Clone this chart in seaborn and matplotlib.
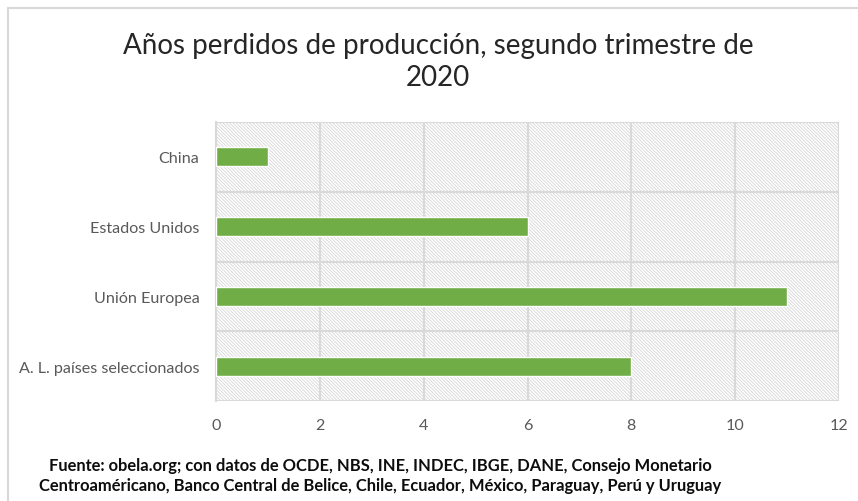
import matplotlib
matplotlib.use("Agg")
import matplotlib.pyplot as plt
import matplotlib.patches as mpatches
import pandas as pd
import seaborn as sns

# --- datos ---
paises = ["China", "Estados Unidos", "Unión Europea", "A. L. países seleccionados"]
anios_perdidos = [1, 6, 11, 8]
xticks = [0, 2, 4, 6, 8, 10, 12]

titulo = "Años perdidos de producción, segundo trimestre de\n2020"
fuente = ("Fuente: obela.org; con datos de OCDE, NBS, INE, INDEC, IBGE, DANE, Consejo Monetario\n"
          "Centroaméricano, Banco Central de Belice, Chile, Ecuador, México, Paraguay, Perú y Uruguay")

df = pd.DataFrame({"pais": paises, "anios": anios_perdidos})

sns.set_style("white")
plt.rcParams["font.family"] = ["Lato", "DejaVu Sans"]
plt.rcParams["hatch.linewidth"] = 0.6

gris = "#d9d9d9"
fig = plt.figure(figsize=(8.58, 5.02), dpi=100)
ax = fig.add_axes([216 / 858, 1 - 402 / 502, 623 / 858, 279 / 502])

# fondo rayado del area de trazado
ax.add_patch(mpatches.Rectangle((0, 0), 1, 1, transform=ax.transAxes, facecolor="white",
                                edgecolor="#d6d6d6", linewidth=0, hatch="\\" * 10, zorder=0))

sns.barplot(data=df, y="pais", x="anios", orient="h", color="#70ad47", width=0.27,
            saturation=1, ax=ax, zorder=3)

ax.set_xlim(0, 12)
ax.set_ylim(3.5, -0.5)
ax.set_xticks(xticks)
ax.set_xticklabels([str(t) for t in xticks])
ax.set_xlabel("")
ax.set_ylabel("")

# rejilla vertical y lineas entre categorias
ax.grid(axis="x", color=gris, linewidth=1.5, zorder=1)
ax.set_yticks([-0.5, 0.5, 1.5, 2.5, 3.5], minor=True)
ax.grid(axis="y", which="minor", color=gris, linewidth=1.5, zorder=1)
ax.tick_params(axis="y", which="minor", length=4, color=gris, width=1.5, direction="out")
ax.tick_params(axis="y", which="major", length=0, labelsize=11.6, labelcolor="#595959", pad=12)
ax.tick_params(axis="x", length=0, labelsize=11.6, labelcolor="#595959", pad=12)
ax.set_axisbelow(True)
for s in ["top", "right", "bottom"]:
    ax.spines[s].set_visible(False)
ax.spines["left"].set_color(gris)
ax.spines["left"].set_linewidth(1.5)

fig.text(438 / 858, 1 - 62 / 502, titulo, ha="center", va="center", fontsize=20,
         color="#262626", linespacing=1.25)
fig.text(380 / 858, 1 - 476 / 502, fuente, ha="center", va="center", fontsize=11.9,
         fontweight="bold", color="#0d0d0d", linespacing=1.3)

# borde del grafico
fig.patches.append(mpatches.Rectangle((8 / 858, -0.2), 2, 1.2 - 9 / 502, transform=fig.transFigure,
                                      fill=False, edgecolor=gris, linewidth=1.5))

fig.savefig("out.png", dpi=100)
